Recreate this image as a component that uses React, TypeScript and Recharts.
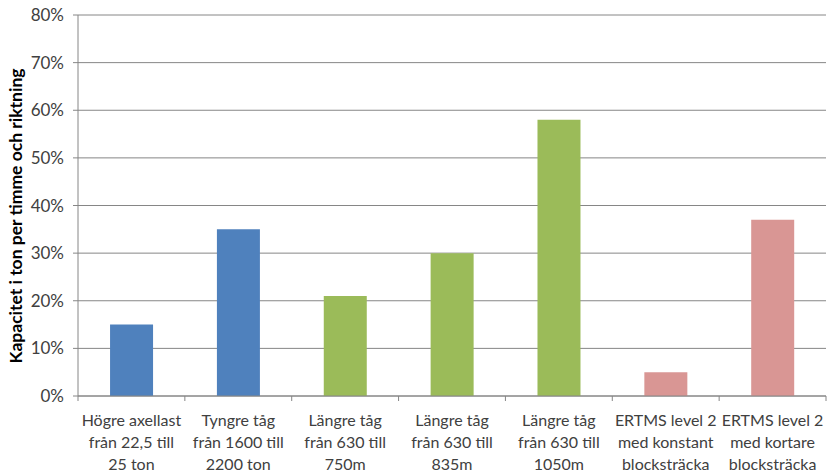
import { BarChart, Bar, XAxis, YAxis, CartesianGrid, Cell } from "recharts";

const categories = [
  ["Högre axellast", "från 22,5 till", "25 ton"],
  ["Tyngre tåg", "från 1600 till", "2200 ton"],
  ["Längre tåg", "från 630 till", "750m"],
  ["Längre tåg", "från 630 till", "835m"],
  ["Längre tåg", "från 630 till", "1050m"],
  ["ERTMS level 2", "med konstant", "blocksträcka"],
  ["ERTMS level 2", "med kortare", "blocksträcka"],
];
const values = [0.15, 0.35, 0.21, 0.3, 0.58, 0.05, 0.37];
const groups = ["axel", "axel", "length", "length", "length", "ertms", "ertms"];
const yTicks = [0, 0.1, 0.2, 0.3, 0.4, 0.5, 0.6, 0.7, 0.8];
const yLabel = "Kapacitet i ton per timme och riktning";

const COLORS: Record<string, string> = {
  axel: "#4f81bd",
  length: "#9bbb59",
  ertms: "#d99694",
};

const data = values.map((v, i) => ({ name: String(i), value: v, group: groups[i] }));

const FONT = "Lato, 'Open Sans', sans-serif";
const W = 829;
const H = 473;
const LEFT = 78;
const RIGHT = 3;
const BAND = (W - LEFT - RIGHT) / categories.length;

function CategoryTick({ x, y, payload }: any) {
  const lines = categories[Number(payload.value)];
  return (
    <g>
      <line x1={x - BAND / 2} x2={x - BAND / 2} y1={y - 8} y2={y - 3} stroke="#868686" />
      {Number(payload.value) === categories.length - 1 && (
        <line x1={x + BAND / 2} x2={x + BAND / 2} y1={y - 8} y2={y - 3} stroke="#868686" />
      )}
      <text x={x} y={y + 22} textAnchor="middle" fontSize={16} fill="#404040" fontFamily={FONT}>
        {lines.map((l, i) => (
          <tspan key={i} x={x} dy={i === 0 ? 0 : 22}>
            {l}
          </tspan>
        ))}
      </text>
    </g>
  );
}

function YLabel() {
  return (
    <text
      x={22}
      y={216}
      transform="rotate(-90 22 216)"
      textAnchor="middle"
      fontSize={17.5}
      fontWeight="bold"
      fill="#000"
      fontFamily={FONT}
    >
      {yLabel}
    </text>
  );
}

export default function App() {
  return (
    <div style={{ position: "absolute", left: 0, top: 0, background: "#fff" }}>
      <BarChart
        width={W}
        height={H}
        data={data}
        margin={{ top: 15, right: RIGHT, left: 0, bottom: 0 }}
        barCategoryGap="30%"
      >
        <CartesianGrid vertical={false} horizontalValues={yTicks} stroke="#868686" strokeOpacity={1} strokeWidth={1} />
        <XAxis
          dataKey="name"
          height={77}
          interval={0}
          tickLine={false}
          axisLine={{ stroke: "#868686" }}
          tick={<CategoryTick />}
        />
        <YAxis
          width={LEFT}
          domain={[0, 0.8]}
          ticks={yTicks}
          tickFormatter={(v) => `${Math.round(v * 100)}%`}
          tick={{ fontSize: 17, fill: "#404040", fontFamily: FONT, dx: -7 }}
          tickLine={{ stroke: "#868686" }}
          tickSize={5}
          axisLine={{ stroke: "#868686" }}
          label={{ content: () => <YLabel /> }}
        />
        <YAxis
          yAxisId="r"
          orientation="right"
          width={0}
          domain={[0, 0.8]}
          tick={false}
          tickLine={false}
          axisLine={{ stroke: "#868686" }}
        />
        <Bar dataKey="value" isAnimationActive={false}>
          {data.map((d, i) => (
            <Cell key={i} fill={COLORS[d.group]} />
          ))}
        </Bar>
      </BarChart>
    </div>
  );
}
